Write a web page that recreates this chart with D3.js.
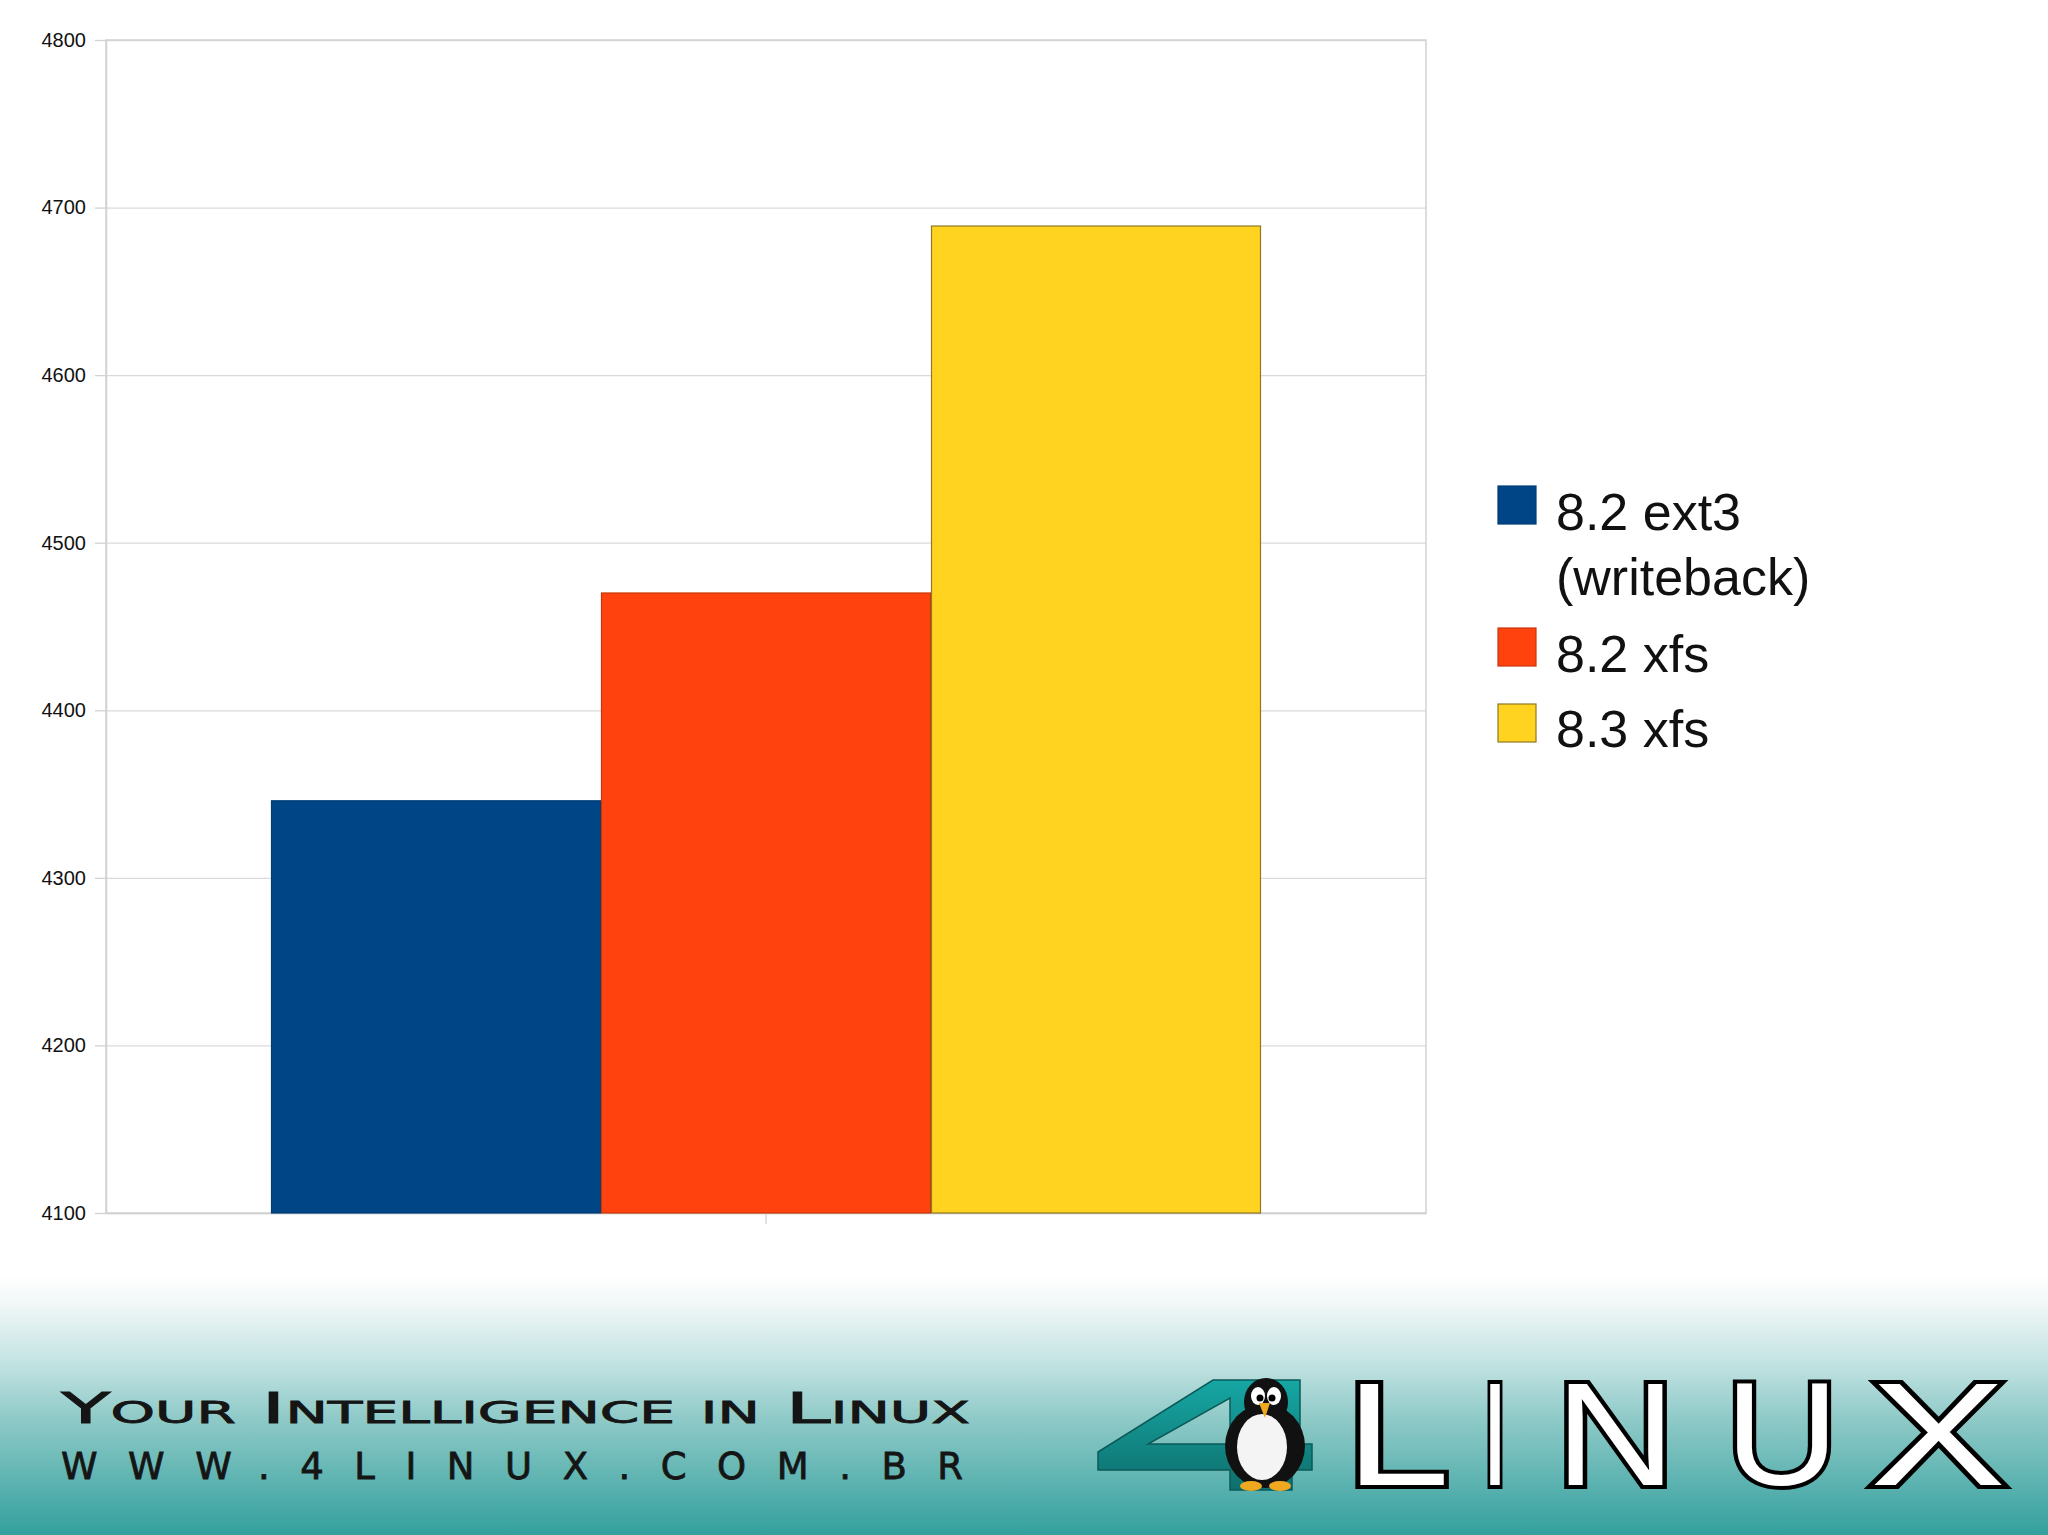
<!DOCTYPE html>
<html><head><meta charset="utf-8">
<script src="https://cdn.jsdelivr.net/npm/d3@7"></script>
<style>body{margin:0;background:#fff}svg{display:block}</style>
</head><body><svg id="c" width="2048" height="1535"></svg>
<script>
// ---- data ----
const series = ["8.2 ext3 (writeback)", "8.2 xfs", "8.3 xfs"];
const legendLines = [["8.2 ext3", "(writeback)"], ["8.2 xfs"], ["8.3 xfs"]];
const values = [4346, 4470, 4689];
const yTicks = [4100, 4200, 4300, 4400, 4500, 4600, 4700, 4800];
const yDomain = [4100, 4800];
const fills = ["#004586", "#ff420e", "#ffd320"];
const edges = ["#003d76", "#c9380c", "#8c7a24"];
const footerLine1 = "Your Intelligence in Linux";
const footerLine2 = "www.4linux.com.br";
const logoLetters = ["L", "I", "N", "U", "X"];

// ---- layout ----
const svg = d3.select("#c");
const L = 106, R = 1426, T = 40, B = 1213;
const defs = svg.append("defs");

// footer gradient
const g1 = defs.append("linearGradient").attr("id", "foot").attr("x1", 0).attr("y1", 0).attr("x2", 0).attr("y2", 1);
[[0, "#ffffff"], [0.1, "#f3f8f8"], [0.33, "#c4e4e3"], [0.55, "#8fcac8"], [1, "#33a09d"]].forEach(s =>
  g1.append("stop").attr("offset", s[0]).attr("stop-color", s[1]));
svg.append("rect").attr("x", 0).attr("y", 1275).attr("width", 2048).attr("height", 260).attr("fill", "url(#foot)");

const y = d3.scaleLinear().domain(yDomain).range([B, T]);
const x0 = d3.scaleBand().domain(["g"]).range([L, R]);
const bw = x0.bandwidth();
const x1 = d3.scaleBand().domain(series).range([x0("g") + bw * 0.125, x0("g") + bw * 0.875]).padding(0);

// gridlines
const grid = svg.append("g").attr("transform", `translate(${L},0)`)
  .call(d3.axisLeft(y).tickValues(yTicks).tickSize(-(R - L)).tickFormat(""));
grid.select(".domain").remove();
grid.selectAll("line").attr("stroke", "#dadada").attr("stroke-width", 1.3);

// plot border
svg.append("rect").attr("x", L).attr("y", T).attr("width", R - L).attr("height", B - T)
  .attr("fill", "none").attr("stroke", "#d2d2d2").attr("stroke-width", 1.5);

// y axis labels + ticks
const ya = svg.append("g").attr("transform", `translate(${L},0)`)
  .call(d3.axisLeft(y).tickValues(yTicks).tickSize(11).tickSizeOuter(0).tickPadding(9).tickFormat(d3.format("d")));
ya.select(".domain").attr("stroke", "#d2d2d2").attr("stroke-width", 1.5);
ya.selectAll("line").attr("stroke", "#d2d2d2").attr("stroke-width", 1.3);
ya.selectAll("text").attr("font-family", "Liberation Sans, Arial, sans-serif").attr("font-size", 20).attr("fill", "#111");

// x axis (single category tick)
const xa = svg.append("g").attr("transform", `translate(0,${B})`)
  .call(d3.axisBottom(x0).tickSize(11).tickSizeOuter(0).tickFormat(""));
xa.select(".domain").attr("stroke", "#d2d2d2").attr("stroke-width", 1.5);
xa.selectAll("line").attr("stroke", "#d2d2d2").attr("stroke-width", 1.3);

// bars
svg.append("g").selectAll("rect").data(values).join("rect")
  .attr("x", (d, i) => x1(series[i]) + 0.5)
  .attr("y", d => y(d))
  .attr("width", x1.bandwidth() - 1)
  .attr("height", d => y(yDomain[0]) - y(d))
  .attr("fill", (d, i) => fills[i])
  .attr("stroke", (d, i) => edges[i])
  .attr("stroke-width", 1.2);

// legend
const lg = svg.append("g");
const legRows = [{ sq: 486, base: [530, 595] }, { sq: 628, base: [672] }, { sq: 704, base: [747] }];
legRows.forEach((r, i) => {
  lg.append("rect").attr("x", 1498).attr("y", r.sq).attr("width", 38).attr("height", 38)
    .attr("fill", fills[i]).attr("stroke", edges[i]).attr("stroke-width", 1.2);
  legendLines[i].forEach((t, j) => {
    lg.append("text").attr("x", 1556).attr("y", r.base[j]).text(t)
      .attr("font-family", "Liberation Sans, Arial, sans-serif").attr("font-size", 52).attr("fill", "#111");
  });
});

// footer text
svg.append("text").attr("x", 61).attr("y", 1423).text(footerLine1)
  .attr("font-family", "DejaVu Sans, sans-serif").attr("font-size", 43)
  .attr("font-variant", "small-caps").attr("textLength", 909).attr("lengthAdjust", "spacingAndGlyphs")
  .attr("fill", "#151515").attr("stroke", "#151515").attr("stroke-width", 0.8);
svg.append("text").attr("x", 61).attr("y", 1479).text(footerLine2.toUpperCase())
  .attr("font-family", "DejaVu Sans, sans-serif").attr("font-size", 37)
  .attr("textLength", 902).attr("lengthAdjust", "spacing")
  .attr("fill", "#151515").attr("stroke", "#151515").attr("stroke-width", 0.8);

// logo "4"
const g4 = defs.append("linearGradient").attr("id", "four").attr("x1", 0).attr("y1", 0).attr("x2", 0).attr("y2", 1);
g4.append("stop").attr("offset", "0").attr("stop-color", "#16a7a4");
g4.append("stop").attr("offset", "1").attr("stop-color", "#0e6f6d");
const four = "M1213,1380 L1300,1380 L1300,1444 L1312,1444 L1312,1470 L1292,1470 L1292,1490 L1230,1490 L1230,1470 L1098,1470 L1098,1452 Z M1148,1444 L1230,1444 L1230,1398 Z";
svg.append("path").attr("d", four).attr("fill", "url(#four)").attr("fill-rule", "evenodd")
  .attr("stroke", "#0b5a58").attr("stroke-width", 1.5);

// penguin
const p = svg.append("g");
p.append("ellipse").attr("cx", 1265).attr("cy", 1446).attr("rx", 40).attr("ry", 42).attr("fill", "#111");
p.append("ellipse").attr("cx", 1266).attr("cy", 1402).attr("rx", 22).attr("ry", 24).attr("fill", "#111");
p.append("ellipse").attr("cx", 1262).attr("cy", 1447).attr("rx", 25).attr("ry", 33).attr("fill", "#f4f4f4");
p.append("ellipse").attr("cx", 1258).attr("cy", 1396).attr("rx", 7).attr("ry", 9).attr("fill", "#fff");
p.append("ellipse").attr("cx", 1274).attr("cy", 1396).attr("rx", 7).attr("ry", 9).attr("fill", "#fff");
p.append("circle").attr("cx", 1260).attr("cy", 1398).attr("r", 3.5).attr("fill", "#000");
p.append("circle").attr("cx", 1272).attr("cy", 1398).attr("r", 3.5).attr("fill", "#000");
p.append("path").attr("d", "M1259,1403 L1270,1403 L1265,1418 Z").attr("fill", "#f0a820");
p.append("ellipse").attr("cx", 1251).attr("cy", 1486).attr("rx", 11).attr("ry", 5).attr("fill", "#f0a820");
p.append("ellipse").attr("cx", 1280).attr("cy", 1486).attr("rx", 11).attr("ry", 5).attr("fill", "#f0a820");

// LINUX letters
const letterX = [1345, 1481, 1555, 1725, 1870];
const letterW = [105, 28, 121, 114, 136];
logoLetters.forEach((c, i) => {
  svg.append("text").attr("x", letterX[i]).attr("y", 1485).text(c)
    .attr("font-family", "Liberation Sans, Arial, sans-serif").attr("font-size", 146)
    .attr("textLength", letterW[i]).attr("lengthAdjust", "spacingAndGlyphs")
    .attr("fill", "#fff").attr("stroke", "#000").attr("stroke-width", 8)
    .attr("paint-order", "stroke").attr("stroke-linejoin", "miter");
});
</script></body></html>
